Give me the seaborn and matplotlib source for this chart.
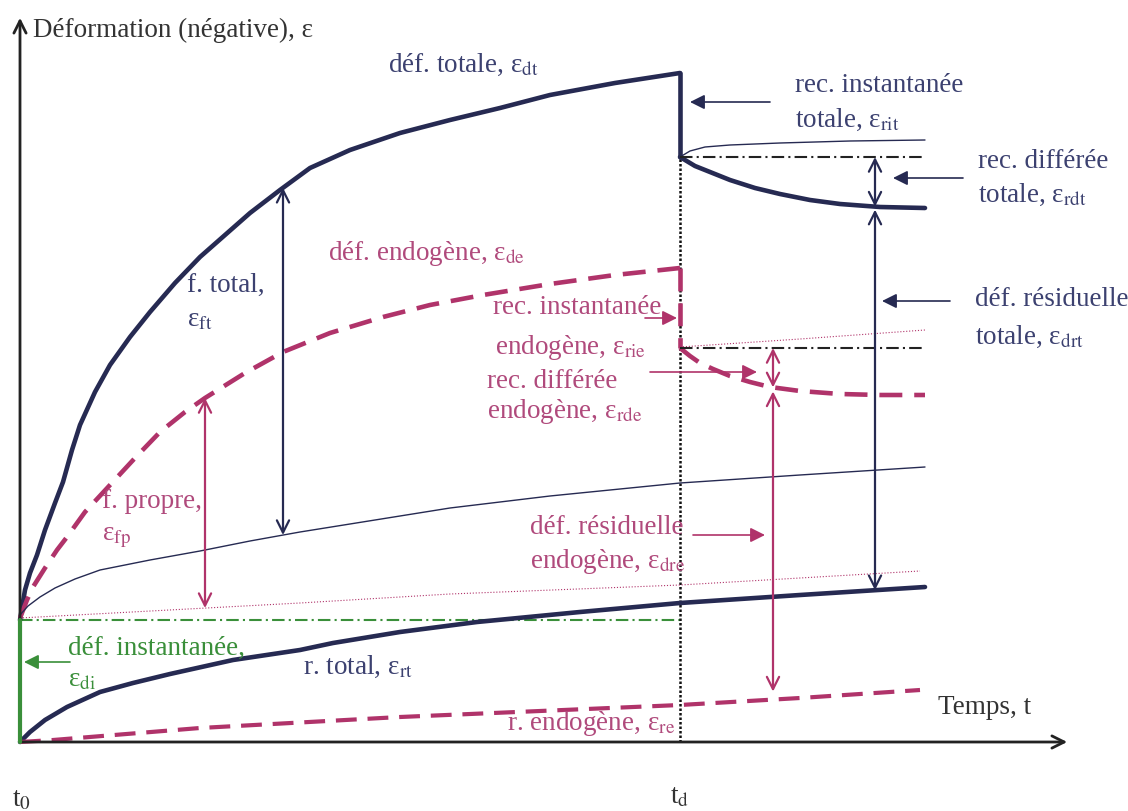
import numpy as np
import pandas as pd
import matplotlib
matplotlib.use("Agg")
import matplotlib.pyplot as plt
import seaborn as sns

sns.set_style("white")
plt.rcParams['font.family'] = ['Liberation Serif', 'DejaVu Serif']
plt.rcParams['mathtext.fontset'] = 'stix'

# time t (schematic units) and strain eps
td = 660
t_end = 905

# loading phase: total deformation (creep + instantaneous)
t_dt = [0, 5, 10, 17, 25, 35, 43, 52, 60, 75, 90, 110, 130, 155, 180, 205, 230, 260,
        290, 330, 380, 430, 480, 530, 595, 660]
eps_dt = [122, 152, 169, 187, 212, 239, 260, 292, 317, 350, 377, 405, 430, 459, 485, 507,
          529, 552, 574, 592, 609, 622, 634, 647, 659, 669]

# total recovery after unloading
t_rec_t = [660, 675, 690, 710, 735, 760, 790, 820, 860, 905]
eps_rec_t = [585, 576, 570, 562, 554, 548, 542, 538, 535, 534]
t_ref_t = [660, 670, 685, 710, 760, 830, 905]
eps_ref_t = [585, 591, 595, 597, 599, 601, 602]

# endogenous deformation
t_de = [0, 7, 13, 25, 37, 47, 65, 90, 115, 140, 165, 185, 225, 263, 310, 363, 410, 463,
        530, 595, 660]
eps_de = [124, 142, 155, 174, 192, 205, 230, 257, 284, 310, 330, 344, 369, 390, 409, 425,
          437, 447, 458, 467, 474]
t_rec_e = [660, 670, 680, 693, 710, 730, 750, 780, 820, 860, 905]
eps_rec_e = [394, 386, 379, 373, 366, 360, 355, 351, 348, 347, 347]
t_ref_e = [660, 780, 905]
eps_ref_e = [395, 403, 412]

# thin reference curves
t_thin_t = [0, 8, 20, 35, 55, 80, 130, 180, 230, 280, 355, 430, 530, 660, 780, 905]
eps_thin_t = [127, 136, 145, 154, 163, 172, 182, 191, 201, 210, 222, 234, 246, 259, 267, 275]
t_thin_e = [0, 280, 430, 660, 900]
eps_thin_e = [124, 139, 148, 157, 171]

# shrinkage curves
t_rt = [0, 10, 25, 47, 80, 113, 150, 213, 280, 313, 380, 457, 560, 660, 780, 905]
eps_rt = [0, 10, 22, 35, 50, 59, 68, 82, 92, 99, 110, 120, 130, 139, 147, 155]
t_re = [0, 33, 180, 380, 660, 780, 900]
eps_re = [0, 2, 14, 25, 37, 44, 52]

eps_di = 122

navy = '#262a52'
navy_txt = '#3c4170'
crimson = '#b0336a'
crim_txt = '#b04a7c'
green = '#3a8f3a'
dark = '#222222'

fig = plt.figure(figsize=(11.28, 8.11), dpi=100)
ax = fig.add_axes([0, 0, 1, 1])
ax.set_xlim(-20, 1108)
ax.set_ylim(-69, 742)
ax.axis('off')

def line(t, e, **kw):
    # estimator=None so vertical segments (repeated t) are drawn as they are
    sns.lineplot(x=t, y=e, ax=ax, sort=False, estimator=None, legend=False, **kw)

# axes arrows
ax.annotate('', xy=(1050, 0), xytext=(-1, 0),
            arrowprops=dict(arrowstyle='->', color=dark, lw=2, mutation_scale=22))
ax.annotate('', xy=(0, 727), xytext=(0, -1),
            arrowprops=dict(arrowstyle='->', color=dark, lw=2, mutation_scale=22))

dashdot = (0, (6, 2, 1, 2))
dash = (0, (5, 2.6))

# instantaneous deformation
line([0.5, 0.5], [0, eps_di], color=green, linewidth=3, zorder=6)
line([0, td], [eps_di, eps_di], color=green, linewidth=1.5, linestyle=dashdot)

# td vertical dotted
line([td, td], [0, eps_rec_t[0]], color='#111111', linewidth=1.8,
     linestyle=(0, (1, 0.8)))

# total
line(t_dt, eps_dt, color=navy, linewidth=3.3)
line([td, td], [eps_dt[-1], eps_rec_t[0]], color=navy, linewidth=3.3)
line(t_rec_t, eps_rec_t, color=navy, linewidth=3.3)
line(t_ref_t, eps_ref_t, color=navy, linewidth=1)
line([td, t_end], [eps_rec_t[0], eps_rec_t[0]], color=dark, linewidth=1.5, linestyle=dashdot)

# endogenous
line(t_de, eps_de, color=crimson, linewidth=3.3, linestyle=dash)
line([td, td], [eps_de[-1], eps_rec_e[0]], color=crimson, linewidth=3.3, linestyle=dash)
line(t_rec_e, eps_rec_e, color=crimson, linewidth=3.3, linestyle=dash)
line(t_ref_e, eps_ref_e, color=crimson, linewidth=0.8, linestyle=':')
line([td, t_end], [eps_rec_e[0], eps_rec_e[0]], color=dark, linewidth=1.5, linestyle=dashdot)

# thin references
line(t_thin_t, eps_thin_t, color=navy, linewidth=1)
line(t_thin_e, eps_thin_e, color=crimson, linewidth=0.8, linestyle=':')

# shrinkage
line(t_rt, eps_rt, color=navy, linewidth=3.3)
line(t_re, eps_re, color=crimson, linewidth=3, linestyle=dash)

# double arrows
def darrow(t, e1, e2, col):
    ax.annotate('', xy=(t, e2), xytext=(t, e1),
                arrowprops=dict(arrowstyle='<->', color=col, lw=1.6, mutation_scale=22,
                                shrinkA=0, shrinkB=0))

def at(t, ts, es):
    return float(np.interp(t, ts, es))

darrow(263, at(263, t_dt, eps_dt), at(263, t_thin_t, eps_thin_t), navy)
darrow(185, at(185, t_de, eps_de), at(185, t_thin_e, eps_thin_e), crimson)
darrow(855, eps_rec_t[0], at(855, t_rec_t, eps_rec_t), navy)
darrow(855, at(855, t_rec_t, eps_rec_t) - 3, at(855, t_rt, eps_rt), navy)
darrow(753, eps_rec_e[0], at(753, t_rec_e, eps_rec_e), crimson)
darrow(753, at(753, t_rec_e, eps_rec_e) - 4, at(753, t_re, eps_re) + 8, crimson)

# pointer arrows
def parrow(t0, t1, e, col):
    ax.annotate('', xy=(t1, e), xytext=(t0, e),
                arrowprops=dict(arrowstyle='-|>', color=col, lw=1.2, mutation_scale=22,
                                shrinkA=0, shrinkB=0))

parrow(750, 670, 640, navy)
parrow(943, 873, 564, navy)
parrow(930, 862, 441, navy)
parrow(625, 657, 424, crimson)
parrow(630, 737, 370, crimson)
parrow(673, 745, 207, crimson)
parrow(50, 4, 80, green)

fs = 19.5
def txt(t, e, s, col, **kw):
    ax.text(t, e, s, color=col, fontsize=fs, va='center', ha='left', **kw)

txt(13, 712, 'Déformation (négative), ε', '#333333')
txt(368, 677, 'déf. totale, ε$_{\\rm dt}$', navy_txt)
txt(775, 657, 'rec. instantanée', navy_txt)
txt(775, 622, 'totale, ε$_{\\rm rit}$', navy_txt)
txt(958, 580, 'rec. différée', navy_txt)
txt(958, 547, 'totale, ε$_{\\rm rdt}$', navy_txt)
txt(955, 442, 'déf. résiduelle', navy_txt)
txt(955, 405, 'totale, ε$_{\\rm drt}$', navy_txt)
txt(167, 457, 'f. total,', navy_txt)
txt(167, 422, 'ε$_{\\rm ft}$', navy_txt)
txt(308, 489, 'déf. endogène, ε$_{\\rm de}$', crim_txt)
txt(473, 435, 'rec. instantanée', crim_txt)
txt(475, 395, 'endogène, ε$_{\\rm rie}$', crim_txt)
txt(467, 360, 'rec. différée', crim_txt)
txt(467, 330, 'endogène, ε$_{\\rm rde}$', crim_txt)
txt(82, 240, 'f. propre,', crim_txt)
txt(82, 204, 'ε$_{\\rm fp}$', crim_txt)
txt(510, 214, 'déf. résiduelle', crim_txt)
txt(510, 180, 'endogène, ε$_{\\rm dre}$', crim_txt)
txt(48, 94, 'déf. instantanée,', green)
txt(48, 62, 'ε$_{\\rm di}$', green)
txt(283, 75, 'r. total, ε$_{\\rm rt}$', navy_txt)
txt(487, 19, 'r. endogène, ε$_{\\rm re}$', crim_txt)
txt(918, 35, 'Temps, t', '#333333')
txt(-8, -58, 't$_{\\rm 0}$', '#333333')
txt(650, -55, 't$_{\\rm d}$', '#333333')

fig.savefig('out.png', dpi=100)
